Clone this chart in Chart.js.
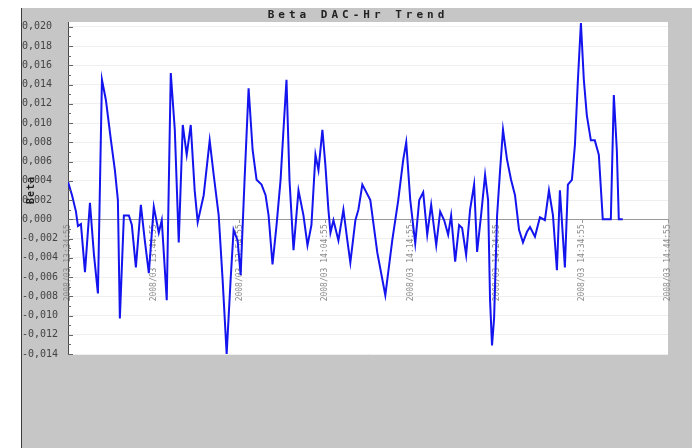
<!DOCTYPE html>
<html>
<head>
<meta charset="utf-8">
<script src="https://cdn.jsdelivr.net/npm/chart.js@4.4.1/dist/chart.umd.min.js"></script>
<style>
  html, body { margin: 0; padding: 0; background: #fff; }
  #wrap { width: 696px; height: 448px; position: relative; }
</style>
</head>
<body>
<div id="wrap"><canvas id="trend"></canvas></div>
<script>
// Beta DAC-Hr trend samples: elapsed minutes and beta value
const chartTitle = 'Beta DAC-Hr Trend';
const axisName = 'Beta';

const minutes = [
  0.00, 0.47, 0.93, 1.16, 1.51, 1.98, 2.56, 3.03, 3.49, 3.96,
  4.42, 5.01, 5.47, 5.82, 6.05, 6.52, 7.10, 7.45, 7.92, 8.50,
  8.96, 9.43, 10.01, 10.59, 10.94, 11.52, 11.99, 12.46, 12.92, 13.39,
  13.85, 14.32, 14.78, 15.13, 15.83, 16.53, 17.00, 17.58, 18.04, 18.51,
  18.97, 19.32, 19.79, 20.14, 20.60, 21.07, 21.54, 22.00, 22.58, 23.05,
  23.40, 23.86, 24.33, 24.80, 25.14, 25.49, 25.84, 26.31, 26.89, 27.47,
  27.94, 28.40, 28.87, 29.22, 29.68, 30.03, 30.38, 30.62, 30.97, 31.55,
  32.13, 32.59, 32.94, 33.53, 33.88, 34.34, 35.27, 36.09, 37.02, 37.83,
  38.53, 39.11, 39.46, 39.93, 40.51, 40.98, 41.44, 41.91, 42.37, 42.96,
  43.42, 43.89, 44.35, 44.70, 45.17, 45.63, 45.98, 46.45, 46.91, 47.38,
  47.73, 48.19, 48.66, 49.01, 49.24, 49.47, 49.71, 50.06, 50.41, 50.75,
  51.22, 51.69, 52.15, 52.62, 53.08, 53.55, 53.90, 54.48, 55.06, 55.64,
  56.11, 56.58, 57.04, 57.39, 57.97, 58.32, 58.79, 59.14, 59.49, 59.84,
  60.18, 60.53, 61.00, 61.46, 61.93, 62.39, 62.86, 63.33, 63.68, 64.03,
  64.26, 64.72
];

const beta = [
  0.0039, 0.0025, 0.0008, -0.0007, -0.0005, -0.0055, 0.0017, -0.0037, -0.0077, 0.0145,
  0.0124, 0.0082, 0.0051, 0.0020, -0.0103, 0.0004, 0.0004, -0.0006, -0.0050, 0.0015,
  -0.0022, -0.0056, 0.0013, -0.0014, -0.0001, -0.0084, 0.0152, 0.0093, -0.0024, 0.0098,
  0.0067, 0.0098, 0.0030, -0.0003, 0.0025, 0.0082, 0.0046, 0.0004, -0.0063, -0.0140,
  -0.0063, -0.0011, -0.0022, -0.0058, 0.0041, 0.0136, 0.0072, 0.0041, 0.0036, 0.0025,
  0.0004, -0.0047, -0.0006, 0.0041, 0.0093, 0.0145, 0.0041, -0.0032, 0.0030, 0.0004,
  -0.0027, -0.0006, 0.0067, 0.0051, 0.0093, 0.0056, 0.0010, -0.0014, -0.0001, -0.0022,
  0.0010, -0.0022, -0.0045, -0.0001, 0.0010, 0.0036, 0.0020, -0.0035, -0.0079, -0.0022,
  0.0020, 0.0062, 0.0080, 0.0020, -0.0025, 0.0020, 0.0028, -0.0016, 0.0015, -0.0027,
  0.0008, -0.0001, -0.0016, 0.0004, -0.0044, -0.0006, -0.0009, -0.0037, 0.0010, 0.0036,
  -0.0034, 0.0004, 0.0046, 0.0020, -0.0084, -0.0131, -0.0103, 0.0004, 0.0051, 0.0093,
  0.0062, 0.0041, 0.0025, -0.0011, -0.0024, -0.0013, -0.0008, -0.0018, 0.0002, -0.0001,
  0.0030, 0.0004, -0.0053, 0.0030, -0.0050, 0.0036, 0.0041, 0.0077, 0.0145, 0.0204,
  0.0145, 0.0108, 0.0082, 0.0082, 0.0067, 0.0000, 0.0000, 0.0000, 0.0129, 0.0072,
  0.0000, 0.0000
];

const timeTicks = [0, 10, 20, 30, 40, 50, 60, 70];
const timeLabels = [
  '2008/03 13:34:55', '2008/03 13:44:55', '2008/03 13:54:55', '2008/03 14:04:55',
  '2008/03 14:14:55', '2008/03 14:24:55', '2008/03 14:34:55', '2008/03 14:44:55'
];

const betaTicks = [
  0.020, 0.018, 0.016, 0.014, 0.012, 0.010, 0.008, 0.006, 0.004,
  0.002, 0.000, -0.002, -0.004, -0.006, -0.008, -0.010, -0.012, -0.014
];

function fmtBeta(v) {
  if (Math.abs(v) < 1e-9) return '0,000';
  return (v < 0 ? '-' : '') + Math.abs(v).toFixed(3).replace('.', ',');
}

// Grey panel, white plot area, title, axis name and inner tick marks
const panelPlugin = {
  id: 'panel',
  beforeDraw(chart) {
    const { ctx, chartArea: a, width, height } = chart;
    ctx.save();
    ctx.fillStyle = '#ffffff';
    ctx.fillRect(0, 0, width, height);
    ctx.fillStyle = '#c6c6c6';
    ctx.fillRect(21, 8, 671, height - 8);
    ctx.strokeStyle = '#3c3c3c';
    ctx.lineWidth = 1;
    ctx.beginPath();
    ctx.moveTo(21.5, 8);
    ctx.lineTo(21.5, height);
    ctx.stroke();
    ctx.fillStyle = '#ffffff';
    ctx.fillRect(a.left, a.top, a.right - a.left, a.bottom - a.top);
    ctx.restore();
  },
  afterDraw(chart) {
    const { ctx, chartArea: a } = chart;
    const y = chart.scales.y;
    ctx.save();
    // inner tick marks on the value axis
    ctx.strokeStyle = '#666';
    ctx.lineWidth = 1;
    for (let k = -14; k <= 20; k++) {
      const py = Math.round(y.getPixelForValue(k / 1000)) + 0.5;
      const len = (k % 2 === 0) ? 5 : 3;
      ctx.beginPath();
      ctx.moveTo(a.left, py);
      ctx.lineTo(a.left + len, py);
      ctx.stroke();
    }
    // title
    ctx.fillStyle = '#222';
    ctx.font = 'bold 11px "DejaVu Sans Mono"';
    ctx.textAlign = 'center';
    ctx.textBaseline = 'middle';
    ctx.letterSpacing = '4px';
    ctx.fillText(chartTitle, 358, 15);
    // axis name
    ctx.letterSpacing = '1px';
    ctx.font = 'bold 10px "DejaVu Sans Mono"';
    ctx.translate(31, 190);
    ctx.rotate(-Math.PI / 2);
    ctx.fillText(axisName, 0, 0);
    ctx.restore();
  }
};

new Chart(document.getElementById('trend'), {
  type: 'line',
  data: {
    datasets: [{
      label: chartTitle,
      data: minutes.map((m, i) => ({ x: m, y: beta[i] })),
      borderColor: '#1414ee',
      borderWidth: 2,
      pointRadius: 0,
      tension: 0,
      fill: false
    }]
  },
  options: {
    responsive: true,
    maintainAspectRatio: false,
    animation: false,
    layout: { padding: { left: 22, top: 22, right: 28, bottom: 94 } },
    plugins: {
      legend: { display: false },
      tooltip: { enabled: false },
      title: { display: false }
    },
    scales: {
      x: {
        type: 'linear',
        position: { y: 0 },
        min: 0,
        max: 70,
        afterBuildTicks: s => { s.ticks = timeTicks.map(v => ({ value: v })); },
        afterFit: s => { s.height = 0; },
        grid: { display: true, drawOnChartArea: false, drawTicks: true, tickLength: 3, color: '#999' },
        border: { display: true, color: '#9a9a9a', width: 1 },
        ticks: {
          autoSkip: false,
          minRotation: 90,
          maxRotation: 90,
          padding: 2,
          color: '#8a8a8a',
          font: { family: '"DejaVu Sans Mono"', size: 8 },
          callback: v => timeLabels[timeTicks.indexOf(v)] ?? ''
        }
      },
      y: {
        min: -0.014,
        max: 0.0205,
        afterBuildTicks: s => { s.ticks = betaTicks.map(v => ({ value: v })); },
        afterFit: s => { s.width = 46; },
        grid: { color: '#efefef', drawTicks: false, tickLength: 0 },
        border: { display: true, color: '#4a4a4a', width: 1 },
        ticks: {
          crossAlign: 'far',
          padding: 0,
          color: '#444',
          font: { family: '"DejaVu Sans Mono"', size: 10 },
          callback: v => fmtBeta(v)
        }
      }
    }
  },
  plugins: [panelPlugin]
});
</script>
</body>
</html>
